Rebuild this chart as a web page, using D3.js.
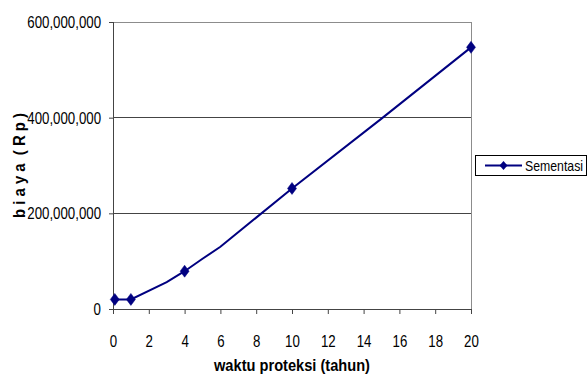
<!DOCTYPE html>
<html>
<head>
<meta charset="utf-8">
<script src="https://cdn.jsdelivr.net/npm/d3@7"></script>
<style>
  html, body { margin: 0; padding: 0; background: #fff; }
  svg { display: block; }
  text { font-family: "Liberation Sans", Arial, sans-serif; fill: #000; }
</style>
</head>
<body>
<svg id="chart" width="588" height="381"></svg>
<script>
// Cost of protection (Rp) against protection time (years)
const seriesName = "Sementasi";
const years = [0.1, 1, 3, 4, 5, 6, 8, 10, 15, 20];
const costs = [20e6, 20e6, 56e6, 79e6, 105e6, 130e6, 191e6, 252e6, 398e6, 547e6];
const markedYears = [0.1, 1, 4, 10, 20];
const xTicks = [0, 2, 4, 6, 8, 10, 12, 14, 16, 18, 20];
const yTicks = [0, 200e6, 400e6, 600e6];
const xTitle = "waktu proteksi (tahun)";
const yTitle = "b i a y a  ( R p )";

const svg = d3.select("#chart");
const plot = { left: 113, right: 471, top: 22, bottom: 309 };
const navy = "#000080";
const FONT = '"Liberation Sans", Arial, sans-serif';

const x = d3.scaleLinear().domain([0, 20]).range([plot.left, plot.right]);
const y = d3.scaleLinear().domain([0, 600e6]).range([plot.bottom, plot.top]);
const fmt = d3.format(",");

// squeeze text horizontally to a condensed look
function condense(sel, factor) {
  sel.each(function () {
    const w = this.getComputedTextLength();
    d3.select(this).attr("textLength", w * factor).attr("lengthAdjust", "spacingAndGlyphs");
  });
}

// horizontal gridlines
svg.append("g")
  .selectAll("line")
  .data(yTicks.filter(d => d > 0 && d < 600e6))
  .join("line")
  .attr("x1", plot.left).attr("x2", plot.right)
  .attr("y1", d => y(d)).attr("y2", d => y(d))
  .attr("stroke", "#444").attr("stroke-width", 1)
  .attr("shape-rendering", "crispEdges");

// plot area border (top and right)
svg.append("path")
  .attr("d", `M${plot.left},${y(600e6)}H${plot.right}V${plot.bottom}`)
  .attr("fill", "none").attr("stroke", "#8c8c8c").attr("stroke-width", 1)
  .attr("shape-rendering", "crispEdges");

// y axis
const yAxis = svg.append("g")
  .attr("transform", `translate(${plot.left},0)`)
  .call(d3.axisLeft(y).tickValues(yTicks).tickFormat(fmt).tickSize(4).tickPadding(8));
yAxis.select(".domain").attr("stroke", "#444").attr("shape-rendering", "crispEdges");
yAxis.selectAll(".tick line").attr("stroke", "#444");
yAxis.selectAll("text").attr("font-size", 17).style("font-family", FONT).call(condense, 0.78);

// x axis
const xAxis = svg.append("g")
  .attr("transform", `translate(0,${plot.bottom})`)
  .call(d3.axisBottom(x).tickValues(xTicks).tickSize(5).tickPadding(21));
xAxis.select(".domain").attr("stroke", "#444").attr("shape-rendering", "crispEdges");
xAxis.selectAll(".tick line").attr("stroke", "#444");
xAxis.selectAll("text").attr("font-size", 17).style("font-family", FONT).call(condense, 0.78);

// axis titles
svg.append("text")
  .attr("x", (plot.left + plot.right) / 2).attr("y", 371)
  .attr("text-anchor", "middle")
  .attr("font-size", 17).attr("font-weight", "bold")
  .attr("textLength", 156).attr("lengthAdjust", "spacingAndGlyphs")
  .text(xTitle);

svg.append("text")
  .attr("transform", `translate(25,${(plot.top + plot.bottom) / 2}) rotate(-90)`)
  .attr("text-anchor", "middle")
  .attr("font-size", 17).attr("font-weight", "bold")
  .style("white-space", "pre")
  .attr("textLength", 105).attr("lengthAdjust", "spacingAndGlyphs")
  .text(yTitle);

// series line
const pts = years.map((t, i) => ({ t, v: costs[i] }));
svg.append("path")
  .datum(pts)
  .attr("fill", "none").attr("stroke", navy).attr("stroke-width", 2)
  .attr("d", d3.line().x(d => x(d.t)).y(d => y(d.v)));

// diamond markers
const diamond = (w, h) => `M0,${-h / 2}L${w / 2},0L0,${h / 2}L${-w / 2},0Z`;
svg.append("g")
  .selectAll("path")
  .data(pts.filter(d => markedYears.includes(d.t)))
  .join("path")
  .attr("transform", d => `translate(${x(d.t)},${y(d.v)})`)
  .attr("d", diamond(9, 12))
  .attr("fill", navy).attr("stroke", navy).attr("stroke-width", 0.5);

// legend
const lg = svg.append("g").attr("transform", "translate(475,155)");
lg.append("rect").attr("x", 0.5).attr("y", 0.5).attr("width", 111).attr("height", 20)
  .attr("fill", "#fff").attr("stroke", "#000").attr("stroke-width", 1);
lg.append("line").attr("x1", 10).attr("x2", 47).attr("y1", 10.5).attr("y2", 10.5)
  .attr("stroke", navy).attr("stroke-width", 2);
lg.append("path").attr("transform", "translate(28.5,10.5)").attr("d", diamond(8, 9))
  .attr("fill", navy);
lg.append("text").attr("x", 50).attr("y", 15.5)
  .attr("font-size", 15).attr("textLength", 58).attr("lengthAdjust", "spacingAndGlyphs")
  .text(seriesName);
</script>
</body>
</html>
